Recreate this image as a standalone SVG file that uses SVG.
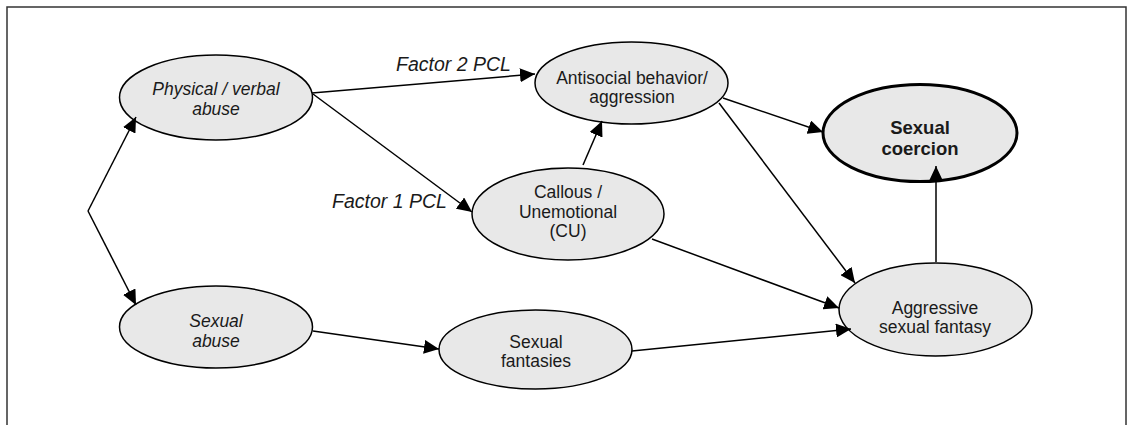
<svg xmlns="http://www.w3.org/2000/svg" width="1127" height="425" viewBox="0 0 1127 425">
<style>
.n{fill:#e8e8e8;stroke:#000;stroke-width:1.5}
.b{stroke-width:3}
.t{font-family:"Liberation Sans",Arial,sans-serif;font-size:17.5px;fill:#1a1a1a;text-anchor:middle}
.i{font-style:italic}
.bd{font-weight:bold;font-size:18.5px}
.e{stroke:#000;stroke-width:1.5;fill:none;marker-end:url(#ah)}
.lab{font-family:"Liberation Sans",Arial,sans-serif;font-size:19.5px;font-style:italic;fill:#1a1a1a}
</style>
<defs>
<marker id="ah" markerUnits="userSpaceOnUse" markerWidth="16" markerHeight="14" refX="15" refY="7" orient="auto">
<path d="M0,0 L15,7 L0,14 z" fill="#000"/>
</marker>
</defs>
<rect x="7" y="7" width="1119" height="440" fill="#fff" stroke="#333" stroke-width="1.5"/>
<g id="physical">
<ellipse class="n" cx="216" cy="97.5" rx="96.5" ry="42.5"/>
<text class="t i" x="216" y="95">Physical / verbal</text>
<text class="t i" x="216" y="114.5">abuse</text>
</g>
<g id="sexualabuse">
<ellipse class="n" cx="216" cy="327" rx="96.5" ry="41"/>
<text class="t i" x="216" y="327">Sexual</text>
<text class="t i" x="216" y="347">abuse</text>
</g>
<g id="antisocial">
<ellipse class="n" cx="631.5" cy="83" rx="96.5" ry="41"/>
<text class="t" x="632" y="84">Antisocial behavior/</text>
<text class="t" x="632" y="103">aggression</text>
</g>
<g id="callous">
<ellipse class="n" cx="568" cy="214" rx="96" ry="46"/>
<text class="t" x="568" y="198">Callous /</text>
<text class="t" x="568" y="218">Unemotional</text>
<text class="t" x="568" y="237">(CU)</text>
</g>
<g id="fantasies">
<ellipse class="n" cx="535.5" cy="349.5" rx="96.5" ry="39.5"/>
<text class="t" x="536" y="348">Sexual</text>
<text class="t" x="536" y="367">fantasies</text>
</g>
<g id="coercion">
<ellipse class="n b" cx="920" cy="133" rx="97" ry="48.5"/>
<text class="t bd" x="920" y="134">Sexual</text>
<text class="t bd" x="920" y="155">coercion</text>
</g>
<g id="aggressive">
<ellipse class="n" cx="935.5" cy="309.5" rx="96.5" ry="46.5"/>
<text class="t" x="935" y="314">Aggressive</text>
<text class="t" x="935" y="333">sexual fantasy</text>
</g>
<g id="connectors">
<path class="e" d="M88,211 L136,117"/>
<path class="e" d="M88,211 L136,305"/>
<path class="e" d="M312,93 L535,74"/>
<path class="e" d="M313,94 L472,212"/>
<path class="e" d="M583,165 L602,121"/>
<path class="e" d="M313,331 L439,349"/>
<path class="e" d="M723,98 L823,132"/>
<path class="e" d="M719,103 L855,283"/>
<path class="e" d="M652,239 L839,308"/>
<path class="e" d="M632,351 L851,329"/>
<path class="e" d="M936,262 L936,166"/>
<text class="lab" x="396" y="71">Factor 2 PCL</text>
<text class="lab" x="332" y="208">Factor 1 PCL</text>
</g>
</svg>
